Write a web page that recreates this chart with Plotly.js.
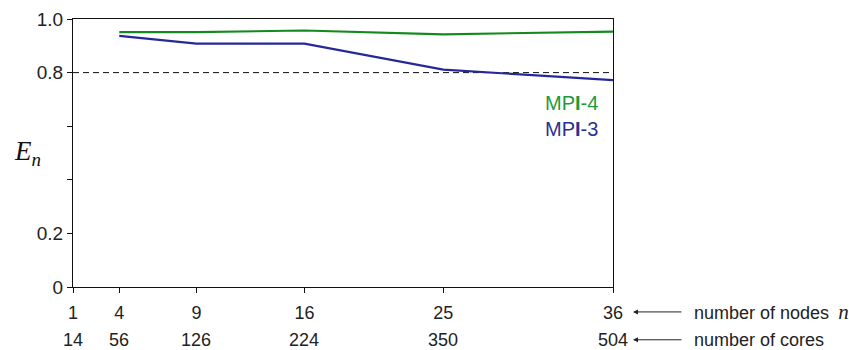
<!DOCTYPE html>
<html><head><meta charset="utf-8">
<script src="https://cdn.plot.ly/plotly-3.0.1.min.js"></script>
<style>html,body{margin:0;padding:0;background:#fff}#c{width:849px;height:350px}</style>
</head><body><div id="c"></div>
<script>
const nodes = [4, 9, 16, 25, 36];
const mpi4 = [0.951, 0.951, 0.957, 0.943, 0.953];
const mpi3 = [0.937, 0.908, 0.908, 0.811, 0.772];
const nodeTicks = [1, 4, 9, 16, 25, 36];
const coreLabels = ['14', '56', '126', '224', '350', '504'];
const yTicks = [0, 0.2, 0.4, 0.6, 0.8, 1.0];
const yTickText = ['0', '0.2', '', '', '0.8', '1.0'];
const refLevel = 0.8;

const FONT = 'Liberation Sans, Arial, sans-serif';
const ROW2 = -0.197;

const traces = [
  {x: [nodeTicks[0], nodeTicks[nodeTicks.length-1]], y: [refLevel, refLevel], mode: 'lines',
   line: {color: '#111', width: 1, dash: '6px,4px'}, hoverinfo: 'skip'},
  {x: nodes, y: mpi4, mode: 'lines', line: {color: '#138a1e', width: 2.2}, name: 'MPI-4'},
  {x: nodes, y: mpi3, mode: 'lines', line: {color: '#26289a', width: 2.2}, name: 'MPI-3'}
];

const ann = [];
coreLabels.forEach((t, i) => ann.push({x: nodeTicks[i], xref: 'x', y: ROW2, yref: 'paper',
  text: t, showarrow: false, xanchor: 'center', yanchor: 'middle', borderpad: 0,
  font: {family: FONT, size: 18, color: '#222'}}));
ann.push({x: -0.085, xref: 'paper', y: 0.5, yref: 'paper', showarrow: false, xanchor: 'center', yanchor: 'middle',
  text: '<i>E</i><sub><i>n</i></sub>', font: {family: 'Liberation Serif, serif', size: 27, color: '#111'}});
ann.push({x: 0.975, xref: 'paper', y: 0.685, yref: 'paper', showarrow: false, xanchor: 'right', yanchor: 'middle',
  text: 'MP<b>I</b>-4', font: {family: FONT, size: 20, color: '#1f9a3a'}});
ann.push({x: 0.975, xref: 'paper', y: 0.59, yref: 'paper', showarrow: false, xanchor: 'right', yanchor: 'middle',
  text: 'MP<b>I</b>-3', font: {family: FONT, size: 20, color: '#2b2f8f'}});
const rows = [{y: -0.093, text: 'number of nodes <span style="font-family:Liberation Serif;font-size:21px">\u2009<i>n</i></span>'},
              {y: ROW2, text: 'number of cores'}];
rows.forEach(r => {
  ann.push({x: 1.037, xref: 'paper', y: r.y, yref: 'paper', text: '', showarrow: true,
    ax: 50, ay: 0, arrowhead: 2, arrowsize: 1, arrowwidth: 1, arrowcolor: '#222', standoff: 0});
  ann.push({x: 1.148, xref: 'paper', y: r.y, yref: 'paper', text: r.text, showarrow: false, borderpad: 0,
    xanchor: 'left', yanchor: 'middle', font: {family: FONT, size: 18, color: '#222'}});
});

const layout = {
  width: 849, height: 350,
  margin: {l: 73, r: 236, t: 19, b: 63},
  paper_bgcolor: '#fff', plot_bgcolor: '#fff',
  showlegend: false,
  font: {family: FONT, size: 18, color: '#222'},
  xaxis: {range: [1, 36], tickvals: nodeTicks, ticktext: nodeTicks.map(String), ticks: 'outside',
    ticklen: 5, tickcolor: '#111', showline: true, linecolor: '#111', linewidth: 1, mirror: true,
    showgrid: false, zeroline: false, tickfont: {size: 18, color: '#222'}, ticklabelstandoff: 4},
  yaxis: {range: [0, 1], tickvals: yTicks, ticktext: yTickText, ticks: 'outside', ticklen: 5,
    tickcolor: '#111', showline: true, linecolor: '#111', linewidth: 1, mirror: true,
    showgrid: false, zeroline: false, tickfont: {size: 19, color: '#222'}},
  annotations: ann
};
Plotly.newPlot('c', traces, layout, {staticPlot: true});
</script></body></html>
